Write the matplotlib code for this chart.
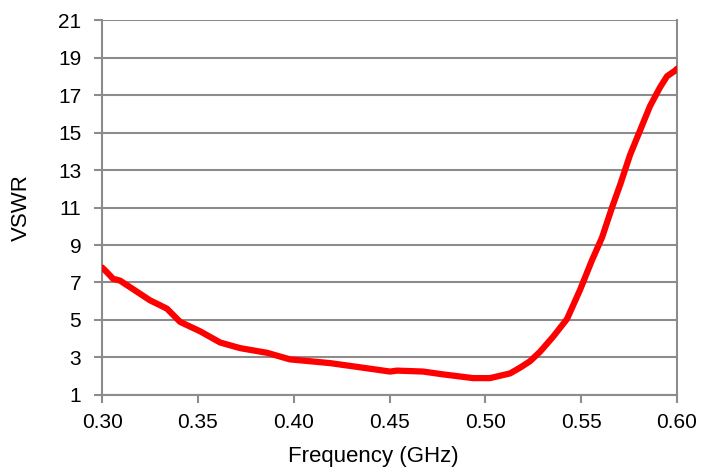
import numpy as np
import matplotlib.pyplot as plt

# VSWR vs frequency
freq_ghz = [0.300, 0.3025, 0.3057, 0.3094, 0.3146, 0.3198, 0.3250, 0.3300, 0.3339,
            0.3407, 0.3511, 0.3616, 0.3720, 0.3861, 0.3980, 0.4085, 0.4190, 0.4330,
            0.4503, 0.4539, 0.4675, 0.4779, 0.4936, 0.5024, 0.5129, 0.5180, 0.5233,
            0.5285, 0.5353, 0.5426, 0.5494, 0.5557, 0.5609, 0.5661, 0.5703, 0.5755,
            0.5807, 0.5859, 0.5911, 0.5948, 0.5990, 0.6000]
vswr = [7.80, 7.55, 7.20, 7.10, 6.75, 6.40, 6.05, 5.80, 5.60,
        4.90, 4.40, 3.80, 3.50, 3.25, 2.90, 2.80, 2.70, 2.50,
        2.25, 2.30, 2.25, 2.10, 1.90, 1.90, 2.15, 2.45, 2.80,
        3.30, 4.10, 5.05, 6.60, 8.20, 9.40, 11.0, 12.2, 13.8,
        15.1, 16.4, 17.4, 18.0, 18.3, 18.4]

x_ticks = [0.30, 0.35, 0.40, 0.45, 0.50, 0.55, 0.60]
y_ticks = list(range(1, 22, 2))

plt.rcParams['font.family'] = ['Liberation Sans', 'DejaVu Sans']
grid_col = '#8c8c8c'

fig = plt.figure(figsize=(7.04, 4.70), dpi=100)
ax = fig.add_axes([0.145, 0.1596, 0.8166, 0.7978])

ax.plot(freq_ghz, vswr, color='#ff0000', lw=4.5, solid_capstyle='round',
        solid_joinstyle='round', zorder=3)

ax.set_xlim(0.30, 0.60)
ax.set_ylim(1, 21)
ax.set_xticks(x_ticks)
ax.set_xticklabels([f"{t:.2f}" for t in x_ticks])
ax.set_yticks(y_ticks)

ax.yaxis.grid(True, color=grid_col, lw=1.5)
ax.set_axisbelow(True)
for side in ['left', 'bottom', 'right']:
    ax.spines[side].set_color(grid_col)
    ax.spines[side].set_linewidth(1.5)
ax.spines['top'].set_visible(False)

ax.tick_params(axis='both', colors=grid_col, width=1.5, length=6,
               labelsize=15, labelcolor='black')
ax.tick_params(axis='x', pad=7)
ax.tick_params(axis='y', pad=9)

ax.set_xlabel('Frequency (GHz)', fontsize=16)
ax.set_ylabel('VSWR', fontsize=16)
# label positions as placed in the reference
ax.xaxis.set_label_coords(0.472, -0.135)
ax.yaxis.set_label_coords(-0.122, 0.5)

fig.savefig('out.png', dpi=100)
